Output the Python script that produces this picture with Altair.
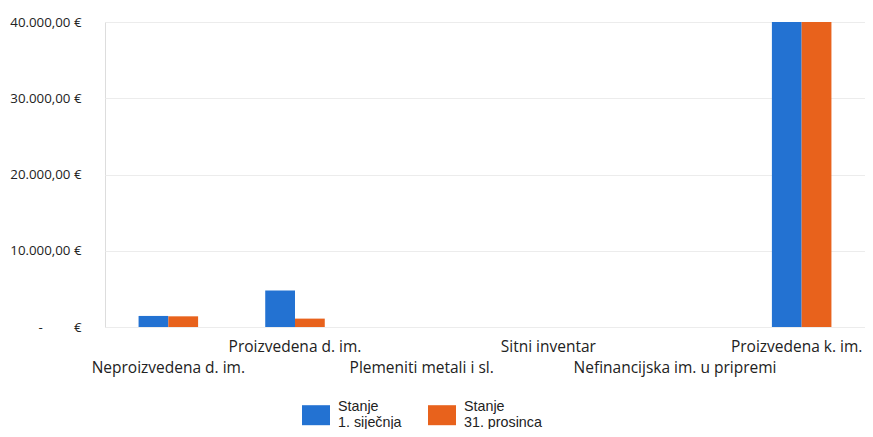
import json
import altair as alt
import pandas as pd

categories = [
    "Neproizvedena d. im.",
    "Proizvedena d. im.",
    "Plemeniti metali i sl.",
    "Sitni inventar",
    "Nefinancijska im. u pripremi",
    "Proizvedena k. im.",
]
series = ["Stanje|1. siječnja", "Stanje|31. prosinca"]
stanje_1_sijecnja = [1450, 4800, 0, 0, 0, 40000]
stanje_31_prosinca = [1400, 1100, 0, 0, 0, 40000]
y_ticks = [0, 10000, 20000, 30000, 40000]
colors = ["#2372d2", "#e8621c"]

rows = []
for i, c in enumerate(categories):
    rows.append({"kategorija": c, "serija": series[0], "iznos": stanje_1_sijecnja[i]})
    rows.append({"kategorija": c, "serija": series[1], "iznos": stanje_31_prosinca[i]})
df = pd.DataFrame(rows)

cats_js = json.dumps(categories, ensure_ascii=False)
last_js = json.dumps(categories[-1], ensure_ascii=False)
nbsp = "\u00a0"
x_label_expr = f"indexof({cats_js}, datum.value) % 2 == 0 ? ['', datum.label] : datum.label"
y_label_expr = (
    f"datum.value == 0 ? '-{nbsp * 9}€' : "
    "replace(replace(replace(format(datum.value, ',.2f'), ',', '#'), '.', ','), '#', '.') + ' €'"
)

chart = (
    alt.Chart(df)
    .mark_bar()
    .encode(
        x=alt.X(
            "kategorija:N",
            sort=categories,
            scale=alt.Scale(paddingInner=0.53, paddingOuter=0.265),
            axis=alt.Axis(
                title=None,
                labelAngle=0,
                labelExpr=x_label_expr,
                labelBaseline="top",
                labelLineHeight=21,
                labelPadding=12,
                labelOffset={"condition": {"test": f"datum.value == {last_js}", "value": -5}, "value": 0},
                labelFont="Open Sans",
                labelFontSize=15.5,
                labelColor="#222222",
                domain=False,
                ticks=False,
                grid=False,
                labelOverlap=False,
                labelLimit=0,
            ),
        ),
        xOffset=alt.XOffset("serija:N", sort=series),
        y=alt.Y(
            "iznos:Q",
            scale=alt.Scale(domain=[0, 40000], nice=False),
            axis=alt.Axis(
                title=None,
                values=y_ticks,
                labelExpr=y_label_expr,
                labelFont="Open Sans",
                labelFontSize=13.3,
                labelColor="#222222",
                labelPadding=24,
                domain=False,
                ticks=False,
                grid=True,
                gridColor="#ececec",
                gridWidth=1,
            ),
        ),
        color=alt.Color(
            "serija:N",
            sort=series,
            scale=alt.Scale(domain=series, range=colors),
            legend=alt.Legend(
                title=None,
                orient="none",
                legendX=201,
                legendY=383,
                direction="horizontal",
                labelExpr="split(datum.label, '|')",
                labelFont="Liberation Sans",
                labelFontSize=14.3,
                labelColor="#222222",
                labelBaseline="line-bottom",
                symbolType="M-1.4,-1L1.4,-1L1.4,1L-1.4,1Z",
                symbolSize=400,
                symbolStrokeWidth=0,
                symbolOpacity=1,
                columnPadding=26,
                labelOffset=12,
            ),
        ),
    )
    .properties(
        width=760,
        height=305,
        autosize=alt.AutoSizeParams(type="none"),
        padding={"left": 97, "top": 14, "right": 0, "bottom": 102},
    )
    .configure_view(stroke=None)
    .configure(background="white")
)

chart.save("out.html", embed_options={"renderer": "svg", "actions": False})
